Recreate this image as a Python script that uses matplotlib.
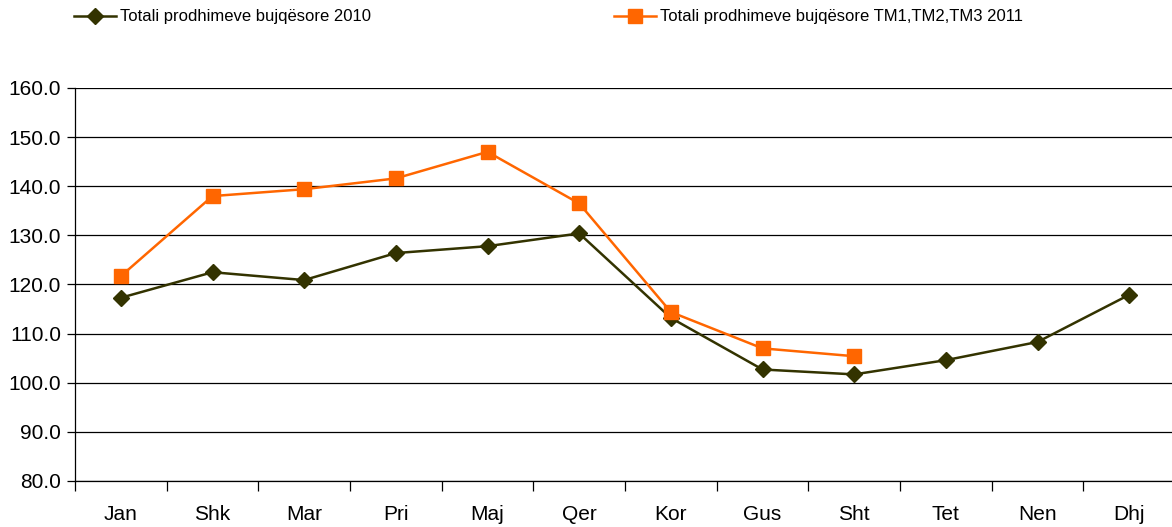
import matplotlib
matplotlib.use("Agg")
import matplotlib.pyplot as plt
from matplotlib import font_manager
from matplotlib.ticker import FixedLocator, NullFormatter

months = ["Jan", "Shk", "Mar", "Pri", "Maj", "Qer", "Kor", "Gus", "Sht", "Tet", "Nen", "Dhj"]
total_2010 = [117.3, 122.5, 120.9, 126.4, 127.8, 130.4, 113.2, 102.7, 101.7, 104.6, 108.3, 117.9]
total_2011 = [121.7, 138.0, 139.4, 141.6, 147.0, 136.5, 114.4, 107.0, 105.4]
label_2010 = "Totali prodhimeve bujqësore 2010"
label_2011 = "Totali prodhimeve bujqësore TM1,TM2,TM3 2011"
yticks = [80, 90, 100, 110, 120, 130, 140, 150, 160]

names = {f.name for f in font_manager.fontManager.ttflist}
base = "Liberation Sans" if "Liberation Sans" in names else "DejaVu Sans"
plt.rcParams['font.family'] = [base, "DejaVu Sans"]

fig = plt.figure(figsize=(11.72, 5.27), dpi=100)
ax = fig.add_axes([75/1172, 1-481/527, 1-75/1172, (481-88)/527])

x = list(range(len(months)))
l1, = ax.plot(x, total_2010, color="#333300", lw=1.8, marker="D", ms=8.5, zorder=3)
l2, = ax.plot(x[:len(total_2011)], total_2011, color="#FF6600", lw=1.8, marker="s", ms=9.5, zorder=4)

ax.set_xlim(-0.5, 11.467)
ax.set_ylim(80, 160)
ax.set_yticks(yticks)
ax.set_yticklabels([f"{v:.1f}" for v in yticks], fontsize=15)
ax.yaxis.grid(True, color="black", lw=0.9)
ax.set_axisbelow(True)

ax.set_xticks(x)
ax.set_xticklabels(months, fontsize=15)
ax.tick_params(axis="x", which="major", length=0, pad=17.5)
ax.xaxis.set_minor_locator(FixedLocator([i + 0.5 for i in range(-1, 11)]))
ax.xaxis.set_minor_formatter(NullFormatter())
ax.tick_params(axis="x", which="minor", length=7, width=0.9, direction="out")
ax.tick_params(axis="y", length=6, width=0.9, pad=4)

for s in ["top", "right"]:
    ax.spines[s].set_visible(False)
ax.spines["bottom"].set_visible(False)
ax.spines["left"].set_linewidth(0.9)
ax.axhline(80, color="black", lw=0.9, zorder=2, clip_on=False)

leg1 = fig.legend([l1], [label_2010], loc="center left", bbox_to_anchor=(74/1172, 1-17/527),
                  frameon=False, handlelength=2.5, handletextpad=0.25, borderpad=0, borderaxespad=0,
                  prop={"size": 12})
leg2 = fig.legend([l2], [label_2011], loc="center left", bbox_to_anchor=(614/1172, 1-17/527),
                  frameon=False, handlelength=2.5, handletextpad=0.25, borderpad=0, borderaxespad=0,
                  prop={"size": 12})

fig.savefig("out.png", dpi=100)
